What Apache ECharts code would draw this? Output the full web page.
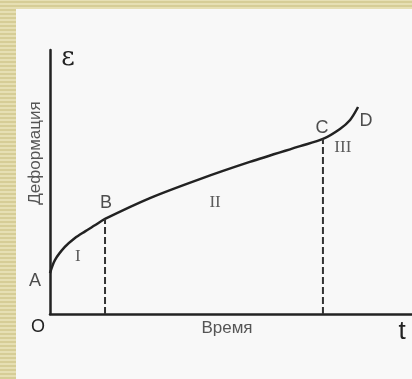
<!DOCTYPE html>
<html>
<head>
<meta charset="utf-8">
<script src="https://cdn.jsdelivr.net/npm/echarts@6/dist/echarts.min.js"></script>
<style>
	html, body { margin: 0; padding: 0; }
	body {
		width: 412px; height: 379px; position: relative; overflow: hidden;
		background: repeating-linear-gradient(0deg, #d6cd96 0 2px, #e6dfb3 2px 4px);
	}
	#main { position: absolute; left: 16px; top: 9px; width: 396px; height: 370px; background: #f8f8f8; }
</style>
</head>
<body>
<div id="main"></div>
<script>
// кривая ползучести: время (0..100) / деформация (0..100)
const curveT = [0, 1.4, 4.1, 6.9, 9.7, 12.4, 15.2, 27.6, 41.4, 55.2, 69.1, 75.4, 80.1, 82.9, 85.1];
const curveE = [15.5, 20.5, 25.4, 28.8, 31.3, 33.6, 36.0, 43.9, 51.1, 57.6, 63.6, 66.3, 70.1, 73.5, 78.4];

// характерные точки
const pointNames = ["A", "B", "C", "D"];
const pointT = [0, 15.2, 75.4, 85.1];
const pointE = [15.5, 36.0, 66.3, 78.4];

// стадии ползучести
const stageNames = ["I", "II", "III"];
const stageT = [7.7, 45.6, 80.9];
const stageE = [21.6, 42.4, 62.9];

const chart = echarts.init(document.getElementById("main"));

const labelOffsets = [[-15, 8], [1, -16], [-1, -11], [8, 14]];

const option = {
	animation: false,
	grid: { left: 34, top: 41, right: 0, bottom: 65 },
	xAxis: {
		type: "value", min: 0, max: 100,
		axisLine: { lineStyle: { color: "#222", width: 2.5 } },
		axisTick: { show: false }, axisLabel: { show: false }, splitLine: { show: false }
	},
	yAxis: {
		type: "value", min: 0, max: 100,
		axisLine: { show: true, lineStyle: { color: "#222", width: 2.5 } },
		axisTick: { show: false }, axisLabel: { show: false }, splitLine: { show: false }
	},
	series: [
		{
			type: "line",
			data: curveT.map((t, i) => [t, curveE[i]]),
			smooth: 0.3,
			symbol: "none",
			lineStyle: { color: "#222", width: 2.5 }
		},
		// пунктир от B и C к оси времени
		{
			type: "line",
			data: [[pointT[1], 0], [pointT[1], pointE[1]]],
			symbol: "none",
			lineStyle: { color: "#333", width: 2, type: [7, 3] }
		},
		{
			type: "line",
			data: [[pointT[2], 0], [pointT[2], pointE[2]]],
			symbol: "none",
			lineStyle: { color: "#333", width: 2, type: [7, 3] }
		},
		{
			type: "scatter",
			symbolSize: 0,
			data: pointNames.map((n, i) => ({
				name: n,
				value: [pointT[i], pointE[i]],
				label: { offset: labelOffsets[i] }
			})),
			label: {
				show: true, position: "inside", formatter: "{b}",
				color: "#222", fontSize: 18, fontFamily: "Liberation Sans"
			}
		},
		{
			type: "scatter",
			symbolSize: 0,
			data: stageNames.map((n, i) => ({ name: n, value: [stageT[i], stageE[i]] })),
			label: {
				show: true, position: "inside", formatter: "{b}",
				color: "#333", fontSize: 17, fontFamily: "Liberation Serif"
			}
		}
	],
	graphic: [
		{ type: "text", x: 52, y: 49, style: { text: "ε", fontSize: 26, fontFamily: "DejaVu Serif", fill: "#222", align: "center", verticalAlign: "middle" } },
		{ type: "text", x: 19, y: 144, rotation: Math.PI / 2, style: { text: "Деформация", fontSize: 17, fontFamily: "Liberation Sans", fill: "#555", align: "center", verticalAlign: "middle" } },
		{ type: "text", x: 22, y: 318, style: { text: "O", fontSize: 18, fontFamily: "Liberation Sans", fill: "#222", align: "center", verticalAlign: "middle" } },
		{ type: "text", x: 211, y: 319, style: { text: "Время", fontSize: 17, fontFamily: "Liberation Sans", fill: "#555", align: "center", verticalAlign: "middle" } },
		{ type: "text", x: 386, y: 323, style: { text: "t", fontSize: 26, fontFamily: "Liberation Sans", fill: "#222", align: "center", verticalAlign: "middle" } }
	]
};

chart.setOption(option);
</script>
</body>
</html>
